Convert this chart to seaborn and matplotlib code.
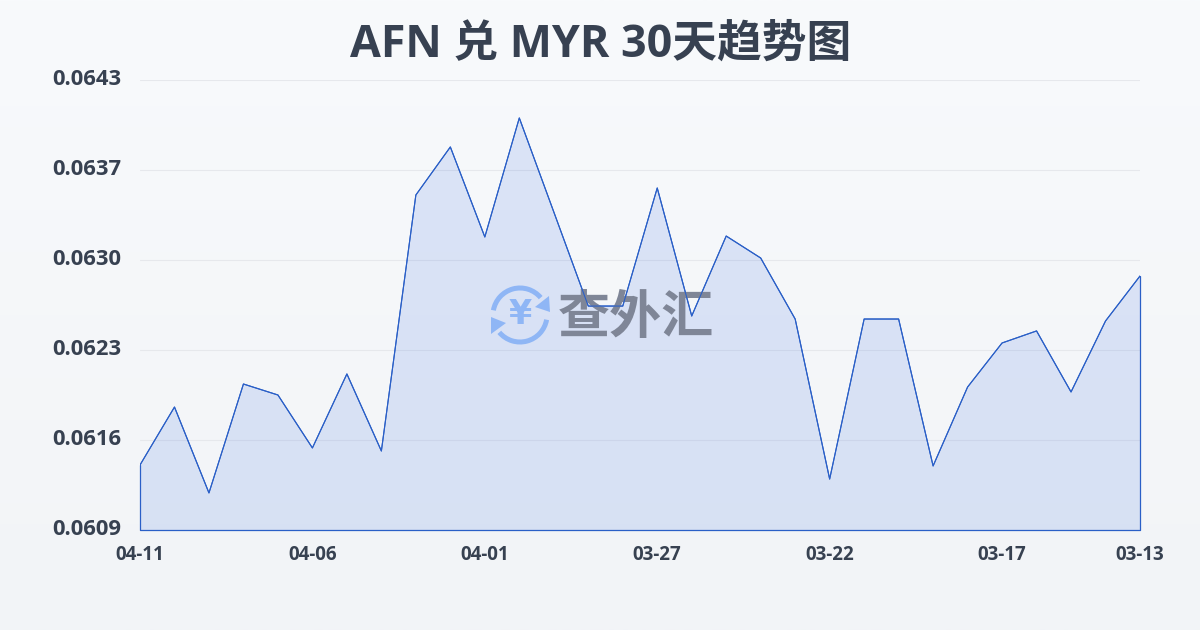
import numpy as np
import pandas as pd
import matplotlib
matplotlib.use("Agg")
import matplotlib.pyplot as plt
from matplotlib.patches import Arc, Polygon
from matplotlib.transforms import ScaledTranslation
import seaborn as sns

TITLE = "AFN 兑 MYR 30天趋势图"
WATERMARK = "查外汇"
values = [0.061391, 0.061829, 0.061180, 0.062003, 0.061920, 0.061520, 0.062079, 0.061497,
          0.063431, 0.063794, 0.063114, 0.064013, 0.063303, 0.062592, 0.062592, 0.063484,
          0.062517, 0.063121, 0.062955, 0.062494, 0.061285, 0.062494, 0.062494, 0.061384,
          0.061980, 0.062313, 0.062404, 0.061943, 0.062479, 0.062819]
x_positions = list(range(30))
x_tick_pos = [0, 5, 10, 15, 20, 25, 29]
x_tick_labels = ["04-11", "04-06", "04-01", "03-27", "03-22", "03-17", "03-13"]
y_ticks = [0.0609, 0.0616, 0.0623, 0.0630, 0.0637, 0.0643]
y_ticks_pos = [0.0609, 0.06158, 0.06226, 0.06294, 0.06362, 0.0643]

sns.set_theme(style="white")
plt.rcParams["font.family"] = ["Open Sans", "Noto Sans CJK SC", "DejaVu Sans"]
INK = "#374151"
LINE = "#2a5fc7"

df = pd.DataFrame({"x": x_positions, "rate": values})
fig = plt.figure(figsize=(12, 6.3), dpi=100)

bg = fig.add_axes([0, 0, 1, 1], zorder=0)
bg.imshow(np.linspace(0, 1, 256).reshape(-1, 1), aspect="auto",
          cmap=matplotlib.colors.LinearSegmentedColormap.from_list("b", ["#f8fafc", "#f2f4f7"]))
bg.axis("off")

ax = fig.add_axes([140/1200, 1-530/630, 1000/1200, 450/630], zorder=1)
ax.patch.set_alpha(0)
ax.set_xlim(0, 29)
ax.set_ylim(0.0609, 0.0643)
for s in ax.spines.values():
    s.set_visible(False)
ax.set_yticks(y_ticks_pos)
ax.set_yticklabels([f"{t:.4f}" for t in y_ticks], fontsize=15.8, fontweight="bold", color=INK)
ax.set_xticks(x_tick_pos)
ax.set_xticklabels(x_tick_labels, fontsize=13.5, fontweight="bold", color=INK)
ax.tick_params(axis="y", length=0, pad=13.5)
ax.tick_params(axis="x", length=6, width=0.8, color="#e3e6ea", pad=5, direction="out")
shift = ScaledTranslation(0, 2/72, fig.dpi_scale_trans)
for lab in ax.get_yticklabels():
    lab.set_transform(lab.get_transform() + shift)
ax.grid(axis="y", color="#e6e8ec", lw=0.8)
ax.set_axisbelow(True)
ax.fill_between(df["x"], df["rate"], 0.0609, color="#3b6fe0", alpha=0.15, lw=0, zorder=2)
sns.lineplot(data=df, x="x", y="rate", ax=ax, color=LINE, lw=0.8, zorder=5, legend=False)
ax.plot([0, 0, 29, 29], [values[0], 0.0609, 0.0609, values[-1]], color=LINE, lw=0.9, zorder=5, clip_on=False)
ax.set_xlabel("")
ax.set_ylabel("")

fig.text(600.5/1200, 1-45/630, TITLE, fontsize=32.2, fontweight="bold", color=INK,
         ha="center", va="center")

# watermark
ov = fig.add_axes([0, 0, 1, 1], zorder=2)
ov.set_xlim(0, 1200)
ov.set_ylim(630, 0)
ov.axis("off")
ov.patch.set_alpha(0)
ov.text(636, 320, WATERMARK, fontsize=37.5, fontweight="bold", color="#7f8697",
        ha="center", va="center", zorder=3)
ICON = "#8fb6f5"
ov.add_patch(Arc((520, 315), 54, 54, theta1=190, theta2=320, color=ICON, lw=3.6))
ov.add_patch(Arc((520, 315), 54, 54, theta1=10, theta2=140, color=ICON, lw=3.6))
ov.add_patch(Polygon([[549, 296], [550, 312], [535, 307]], color=ICON, lw=0))
ov.add_patch(Polygon([[491, 317], [506, 323], [491, 334]], color=ICON, lw=0))
ov.text(520, 315, "¥", fontsize=24, fontweight="bold", color=ICON, ha="center", va="center",
        family=["DejaVu Sans"])

# line above the watermark
ln = fig.add_axes(ax.get_position(), zorder=3, sharex=ax, sharey=ax)
ln.axis("off")
ln.patch.set_alpha(0)
sns.lineplot(data=df, x="x", y="rate", ax=ln, color=LINE, lw=0.8, legend=False)
ln.set_xlim(0, 29)
ln.set_ylim(0.0609, 0.0643)

fig.savefig("out.png", dpi=100)
